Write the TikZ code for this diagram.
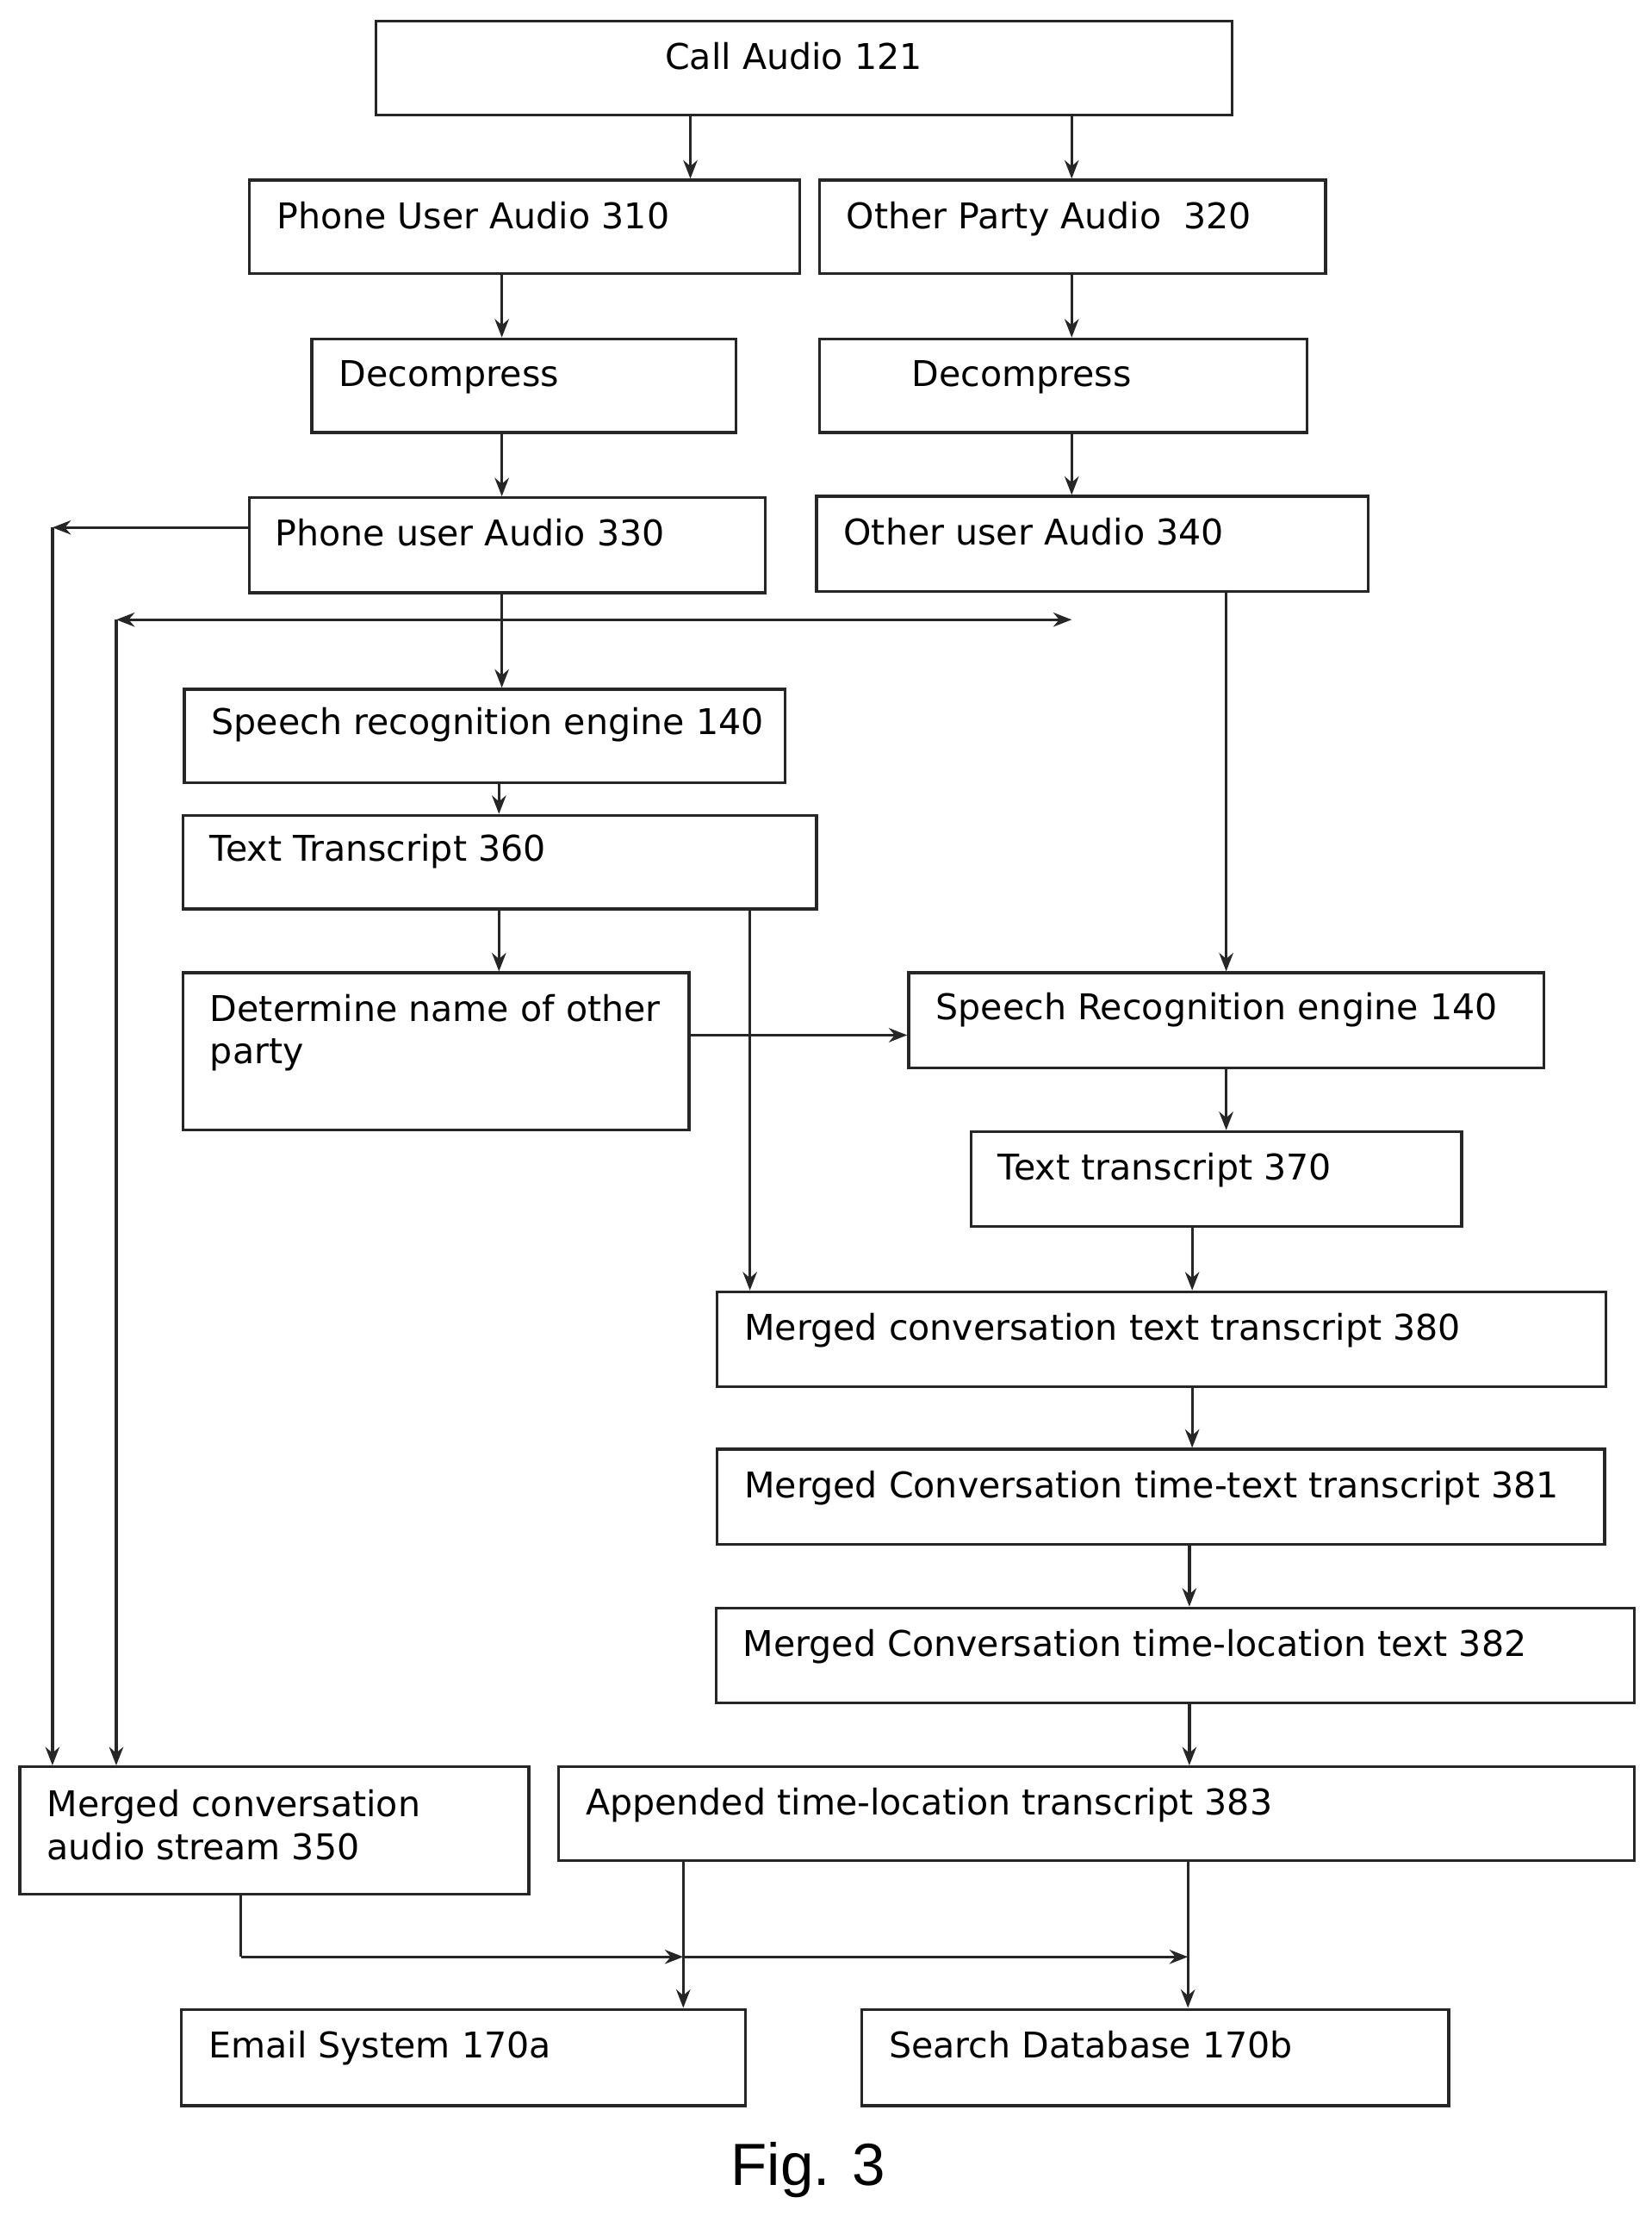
\documentclass[tikz,border=0pt]{standalone}
\usepackage{fontspec}
\setmainfont{DejaVu Sans}
\usetikzlibrary{arrows.meta,calc}
\begin{document}
\begin{tikzpicture}[x=1pt,y=-1pt,
 box/.style={draw=black!85,line width=2pt,anchor=north west,inner sep=0pt},
 lbl/.style={anchor=north west,inner sep=0pt,font=\fontsize{25}{30}\selectfont,align=left},
 arr/.style={draw=black!85,line width=2pt,-{Stealth[length=13pt,width=10pt]}},
 ln/.style={draw=black!85,line width=2pt}]
\useasboundingbox (0,0) rectangle (1165,1567);
\newcommand{\bx}[7]{\node[box,minimum width=#4-#2,minimum height=#5-#3] (#1) at (#2,#3) {};
 \node[lbl] at ($(#1.north west)+(#6,#7)$) {\csname lbl#1\endcsname};}
\expandafter\def\csname lblca\endcsname{Call Audio 121}
\expandafter\def\csname lblpu\endcsname{Phone User Audio 310}
\expandafter\def\csname lblop\endcsname{Other Party Audio\ \ 320}
\expandafter\def\csname lbldl\endcsname{Decompress}
\expandafter\def\csname lbldr\endcsname{Decompress}
\expandafter\def\csname lblpa\endcsname{Phone user Audio 330}
\expandafter\def\csname lbloa\endcsname{Other user Audio 340}
\expandafter\def\csname lblsl\endcsname{Speech recognition engine 140}
\expandafter\def\csname lbltl\endcsname{Text Transcript 360}
\expandafter\def\csname lbldn\endcsname{Determine name of other\\party}
\expandafter\def\csname lblsr\endcsname{Speech Recognition engine 140}
\expandafter\def\csname lbltr\endcsname{Text transcript 370}
\expandafter\def\csname lblma\endcsname{Merged conversation text transcript 380}
\expandafter\def\csname lblmb\endcsname{Merged Conversation time-text transcript 381}
\expandafter\def\csname lblmc\endcsname{Merged Conversation time-location text 382}
\expandafter\def\csname lblms\endcsname{Merged conversation\\audio stream 350}
\expandafter\def\csname lblap\endcsname{Appended time-location transcript 383}
\expandafter\def\csname lblem\endcsname{Email System 170a}
\expandafter\def\csname lblsd\endcsname{Search Database 170b}
\bx{ca}{264}{14}{868}{80}{205}{16}
\bx{pu}{175}{126}{563}{192}{20}{16}
\bx{op}{577}{126}{934}{192}{20}{16}
\bx{dl}{219}{238}{518}{304}{20}{16}
\bx{dr}{577}{238}{921}{304}{66}{16}
\bx{pa}{175}{350}{539}{417}{19}{16}
\bx{oa}{575}{349}{964}{416}{20}{16}
\bx{sl}{129}{485}{553}{551}{20}{14}
\bx{tl}{128}{574}{575}{640}{20}{14}
\bx{dn}{128}{685}{485}{796}{20}{16}
\bx{sr}{640}{685}{1088}{752}{20}{15}
\bx{tr}{684}{797}{1030}{864}{20}{16}
\bx{ma}{505}{910}{1132}{977}{20}{16}
\bx{mb}{505}{1021}{1131}{1088}{20}{16}
\bx{mc}{504}{1133}{1152}{1200}{20}{16}
\bx{ms}{13}{1245}{372}{1335}{20}{17}
\bx{ap}{393}{1245}{1152}{1311}{20}{16}
\bx{em}{127}{1416}{525}{1484}{20}{16}
\bx{sd}{607}{1416}{1021}{1484}{20}{16}
\node[anchor=center,inner sep=0pt,font=\fontsize{42}{48}\selectfont\fontspec{Liberation Sans}] (fig) at (570,1530) {Fig. 3};
\coordinate (l1) at (37,372);
\coordinate (l2) at (82,437);
\coordinate (r2) at (756,437);
\coordinate (j1) at (354,437);
\coordinate (b1) at (170,1380);
\coordinate (b2) at (482,1380);
\coordinate (b3) at (838,1380);
\draw[arr] (487,80) -- (487,126);
\draw[arr] (756,80) -- (756,126);
\draw[arr] (354,192) -- (354,238);
\draw[arr] (756,192) -- (756,238);
\draw[arr] (354,304) -- (354,350);
\draw[arr] (756,304) -- (756,349);
\draw[arr] (pa.west|-l1) -- (l1);
\draw[arr] (l1) -- (l1|-ms.north);
\draw[arr] (j1) -- (l2);
\draw[arr] (j1) -- (r2);
\draw[arr] (l2) -- (l2|-ms.north);
\draw[arr] (354,417) -- (354,485);
\draw[arr] (865,416) -- (865,685);
\draw[arr] (352,551) -- (352,574);
\draw[arr] (352,640) -- (352,685);
\draw[arr] (529,640) -- (529,910);
\draw[arr] (dn.east|-0,730) -- (sr.west|-0,730);
\draw[arr] (865,752) -- (865,797);
\draw[arr] (841,864) -- (841,910);
\draw[arr] (841,977) -- (841,1021);
\draw[arr] (839,1088) -- (839,1133);
\draw[arr] (839,1200) -- (839,1245);
\draw[ln] (ms.south-|b1) -- (b1);
\draw[arr] (b1) -- (b2);
\draw[arr] (b2) -- (b3);
\draw[arr] (ap.south-|b2) -- (b2|-em.north);
\draw[arr] (ap.south-|b3) -- (b3|-sd.north);
\end{tikzpicture}
\end{document}
